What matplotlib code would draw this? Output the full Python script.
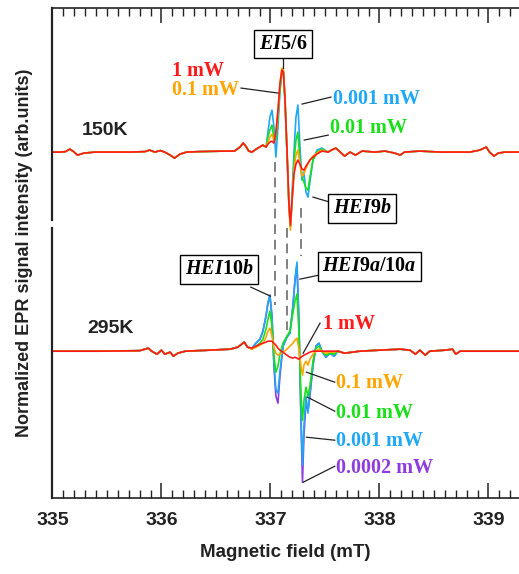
import matplotlib
matplotlib.use("Agg")
import matplotlib.pyplot as plt
from matplotlib.ticker import MultipleLocator

plt.rcParams['mathtext.fontset'] = 'custom'
plt.rcParams['mathtext.rm'] = 'Liberation Serif:bold'
plt.rcParams['mathtext.it'] = 'Liberation Serif:italic:bold'

# ---- 150 K spectra (field in mT, intensity in arb. units) ----
top_wing_l_B = [335.00, 335.07, 335.12, 335.16, 335.20, 335.23, 335.29, 335.39, 335.71, 335.85,
                335.89, 335.94, 335.99, 336.03, 336.08, 336.12, 336.17, 336.23, 336.35, 336.58,
                336.67, 336.72, 336.75, 336.78, 336.80, 336.83, 336.87, 336.90, 336.93, 336.96]
top_wing_l_I = [0, 0, 0.5, 3, 0, -3, -1, 0, 0, 0.5,
                2, 0, 1.5, 0, -3, -6, -2, 0, 0.5, 1,
                1, 5, 9, 5, 1, 0, 3, 5, 7, 5]

top_mid_B = [336.977, 336.995, 337.014, 337.032, 337.050, 337.069, 337.087, 337.105, 337.119,
             337.133, 337.151, 337.170, 337.183, 337.197, 337.216, 337.234, 337.252, 337.271,
             337.289, 337.307, 337.326, 337.344, 337.362, 337.390, 337.427, 337.472, 337.528]
top_1mW = [8, 10, 11, 9, 20, 42, 68, 82, 80, 55, 5, -52, -73, -50, -22, -12, -8, -12,
           -17, -18, -14, -11, -8, -5, -2, 1, 0]
top_01mW = [10, 15, 18, 12, 18, 40, 68, 84, 82, 55, 5, -55, -78, -52, -18, -3, 2, -12,
            -24, -22, -16, -12, -8, -4, -1, 2, 0]
top_001mW = [15, 22, 27, 14, 12, 35, 62, 80, 80, 52, 2, -54, -75, -50, -10, 12, 20, -10,
             -25, -30, -36, -38, -25, -8, 0, 3, 0]
top_0001mW = [20, 35, 42, 25, -5, 25, 60, 80, 80, 50, 0, -55, -74, -45, 0, 35, 47, 5,
              -28, -20, -40, -45, -30, -8, 2, 4, 0]

top_wing_r_B = [337.56, 337.60, 337.64, 337.68, 337.73, 337.78, 337.84, 337.96, 338.05, 338.14,
                338.19, 338.23, 338.37, 338.56, 338.83, 338.92, 338.98, 339.01, 339.05, 339.09,
                339.15, 339.28]
top_wing_r_I = [2, 4, 0, -4, 0, -3, 1, 0, 1, -1,
                -3, 0, 1, 0, 0, 2, 5, 0, -4, -1,
                0, 0]

# ---- 295 K spectra ----
bot_wing_l_B = [335.00, 335.44, 335.80, 335.88, 335.91, 335.96, 336.00, 336.03, 336.08, 336.11,
                336.15, 336.22, 336.44, 336.63, 336.70, 336.76, 336.79]
bot_wing_l_I = [0, 0, 0.5, 3, 0, -3, 1, -3, -1, -5,
                -2, 0, 1, 2, 4, 9, 4]

bot_mid_B = [336.830, 336.867, 336.904, 336.931, 336.959, 336.977, 336.995, 337.014, 337.032,
             337.050, 337.069, 337.087, 337.115, 337.151, 337.179, 337.206, 337.225, 337.243,
             337.261, 337.280, 337.294, 337.307, 337.326, 337.344, 337.362, 337.390, 337.417,
             337.445, 337.472, 337.509, 337.546, 337.583]
bot_1mW = [3, 5, 7, 8, 9, 10, 10, 10, 8, 6, 3, 1, -1, -4, -6, -7, -6, -7,
           -8, -6, -5, -4, -3, -2, -1, 0, 0, 0, 0, 0, 0, 0]
bot_01mW = [2, 4, 6, 8, 14, 20, 23, 15, 4, -2, -4, -3, -1, 2, 5, 8, 11, 13,
            2, -15, -24, -14, -10, -14, -8, -3, 0, 2, 0, -2, -1, -1]
bot_001mW = [2, 5, 8, 12, 22, 32, 40, 25, -5, -21, -15, -3, 8, 15, 20, 38, 50, 57,
             20, -45, -69, -50, -36, -45, -35, -10, 3, 5, 0, -4, -2, -3]
bot_0001mW = [3, 8, 12, 20, 35, 48, 56, 35, -12, -38, -42, -20, 5, 14, 18, 45, 72, 89,
              32, -65, -114, -75, -45, -62, -42, -14, 5, 8, 0, -6, -2, -5]
bot_00002mW = [3, 8, 12, 20, 35, 48, 56, 35, -15, -45, -52, -25, 5, 14, 18, 45, 70, 86,
               30, -70, -131, -85, -50, -60, -45, -15, 5, 8, 0, -6, -2, -5]

bot_wing_r_B = [337.62, 337.68, 337.82, 338.00, 338.19, 338.28, 338.33, 338.37, 338.42, 338.46,
                338.60, 338.67, 338.70, 338.74, 338.88, 339.28]
bot_wing_r_I = [0, -2, 0, 1, 2, 1, -3, 1, -4, 0,
                1, 2, -3, 0, 0, 0]

powers_top = ['0.001 mW', '0.01 mW', '0.1 mW', '1 mW']
powers_bot = ['0.0002 mW', '0.001 mW', '0.01 mW', '0.1 mW', '1 mW']
colors = {'1 mW': '#ff1a1a', '0.1 mW': '#ffa500', '0.01 mW': '#19e019',
          '0.001 mW': '#1fa8f5', '0.0002 mW': '#8e3ce0'}

top_traces = {'1 mW': top_1mW, '0.1 mW': top_01mW, '0.01 mW': top_001mW, '0.001 mW': top_0001mW}
bot_traces = {'1 mW': bot_1mW, '0.1 mW': bot_01mW, '0.01 mW': bot_001mW,
              '0.001 mW': bot_0001mW, '0.0002 mW': bot_00002mW}

top_off = 346
bot_off = 147
ink = '#222222'

fig = plt.figure(figsize=(5.19, 5.74), dpi=100)
ax = fig.add_axes([0.101, 0.132, 0.899, 0.854])

for p in powers_bot:
    B = bot_wing_l_B + bot_mid_B + bot_wing_r_B
    I = bot_wing_l_I + bot_traces[p] + bot_wing_r_I
    ax.plot(B, [v + bot_off for v in I], color=colors[p], lw=1.2)
for p in powers_top:
    B = top_wing_l_B + top_mid_B + top_wing_r_B
    I = top_wing_l_I + top_traces[p] + top_wing_r_I
    ax.plot(B, [v + top_off for v in I], color=colors[p], lw=1.2)

# guide lines linking the two spectra
dash = dict(color='#808080', lw=1.4, ls=(0, (5, 3)))
ax.plot([337.04, 337.04], [336, 193], **dash)
ax.plot([337.15, 337.15], [270, 168], **dash)
ax.plot([337.28, 337.28], [290, 242], **dash)

serif = dict(family='Liberation Serif', weight='bold', fontsize=14.5)
box = dict(boxstyle='square,pad=0.22', fc='white', ec='black', lw=1)


def label(txt, x, y, c, ha='left'):
    ax.text(x, y, txt, color=c, ha=ha, va='center', **serif)


def leader(x0, y0, x1, y1):
    ax.plot([x0, x1], [y0, y1], color=ink, lw=0.9)


# 150 K annotations
ax.text(337.115, 454, r'$\mathit{EI}$5/6', ha='center', va='center', bbox=box, **serif)
leader(337.115, 440, 337.115, 430)
label('1 mW', 336.34, 427, colors['1 mW'], ha='center')
label('0.1 mW', 336.10, 408, colors['0.1 mW'])
leader(336.73, 410, 337.07, 405)
label('0.001 mW', 337.57, 399, colors['0.001 mW'])
leader(337.555, 401, 337.29, 394)
label('0.01 mW', 337.55, 370, colors['0.01 mW'])
leader(337.53, 363, 337.31, 358)
ax.text(337.84, 290, r'$\mathit{HEI}$9$\mathit{b}$', ha='center', va='center', bbox=box, **serif)
leader(337.545, 296, 337.39, 301)

# 295 K annotations
ax.text(336.53, 229, r'$\mathit{HEI}$10$\mathit{b}$', ha='center', va='center', bbox=box, **serif)
leader(336.82, 211, 337.00, 202)
ax.text(337.91, 232, r'$\mathit{HEI}$9$\mathit{a}$/10$\mathit{a}$', ha='center', va='center',
        bbox=box, **serif)
leader(337.445, 223, 337.27, 219)
label('1 mW', 337.48, 174, colors['1 mW'])
leader(337.455, 175, 337.30, 145)
label('0.1 mW', 337.60, 115, colors['0.1 mW'])
leader(337.59, 116, 337.33, 126)
label('0.01 mW', 337.60, 85, colors['0.01 mW'])
leader(337.59, 87, 337.34, 101)
label('0.001 mW', 337.60, 57, colors['0.001 mW'])
leader(337.59, 58, 337.33, 61)
label('0.0002 mW', 337.60, 30, colors['0.0002 mW'])
leader(337.59, 32, 337.30, 16)

sans = dict(family='Liberation Sans', weight='bold', color=ink)
ax.text(335.27, 368, '150K', va='center', fontsize=14, **sans)
ax.text(335.32, 170, '295K', va='center', fontsize=14, **sans)

ax.set_xlim(335.0, 339.28)
ax.set_ylim(0, 490)
ax.spines['right'].set_visible(False)
ax.spines['left'].set_visible(False)
for s in ('top', 'bottom'):
    ax.spines[s].set_linewidth(1.2)
    ax.spines[s].set_color(ink)
# left axis line, broken between the two spectra
ax.plot([0, 0], [1, 0.567], transform=ax.transAxes, color=ink, lw=1.6, clip_on=False)
ax.plot([0, 0], [0.551, 0], transform=ax.transAxes, color=ink, lw=1.6, clip_on=False)

ax.xaxis.set_major_locator(MultipleLocator(1))
ax.xaxis.set_minor_locator(MultipleLocator(0.1))
ax.tick_params(axis='x', which='both', direction='in', top=True, bottom=True, color=ink)
ax.tick_params(axis='x', which='major', length=11, width=1.1, pad=10)
ax.tick_params(axis='x', which='minor', length=5.5, width=1.0)
ax.set_yticks([])
for t in ax.get_xticklabels():
    t.set_fontfamily('Liberation Sans')
    t.set_fontweight('bold')
    t.set_fontsize(14)
    t.set_color(ink)

ax.set_xlabel('Magnetic field (mT)', fontsize=13.5, labelpad=11, **sans)
ax.set_ylabel('Normalized EPR signal intensity (arb.units)', fontsize=13, labelpad=14, **sans)

fig.savefig('out.png', dpi=100)
